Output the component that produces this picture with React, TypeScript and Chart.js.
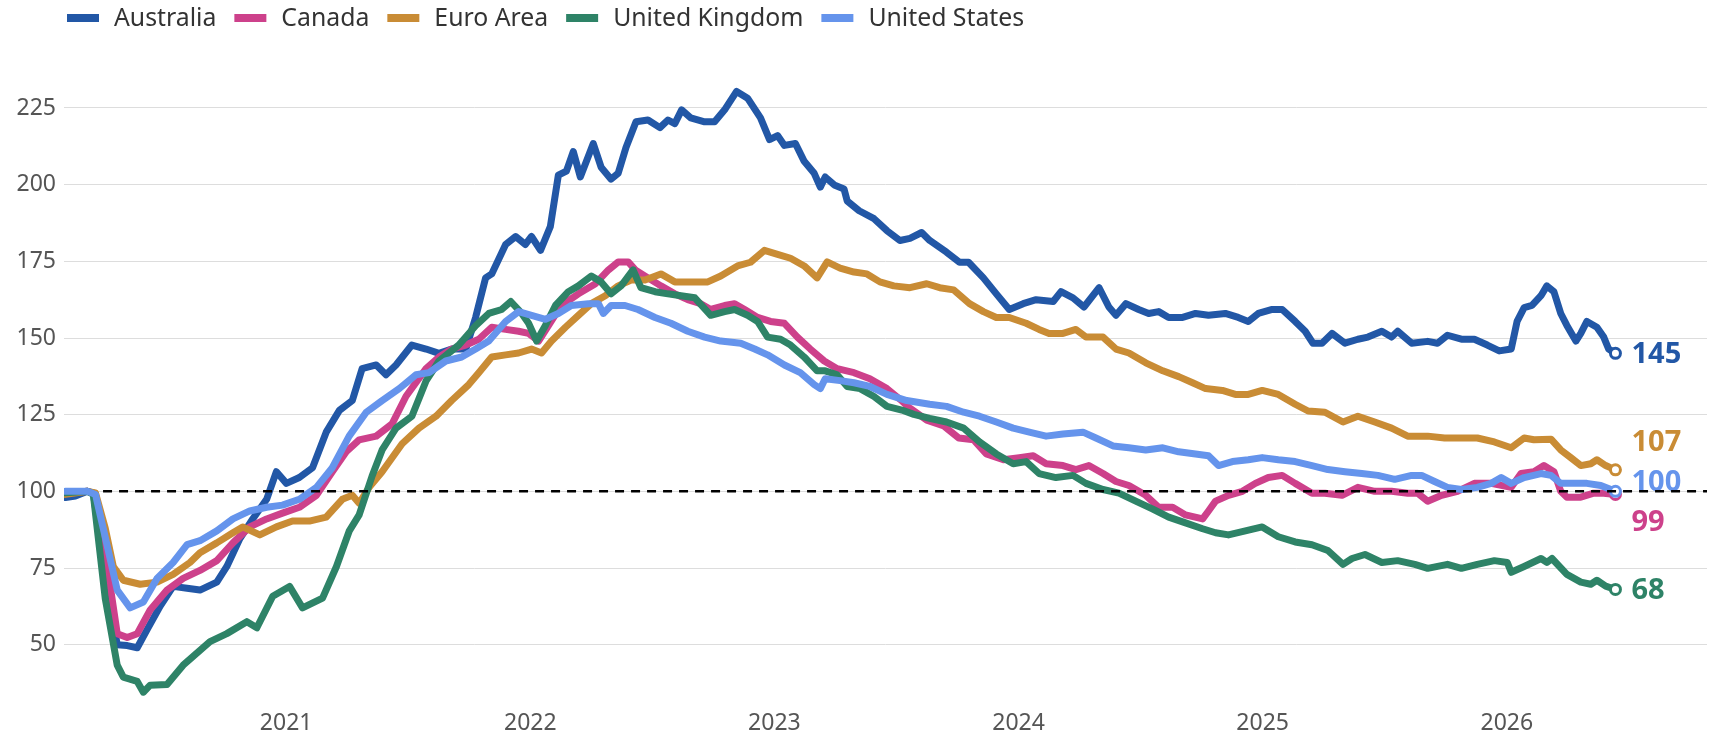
import React, { useEffect, useRef } from "react";
import { Chart, registerables } from "chart.js";

Chart.register(...registerables);

const seriesNames = ["Australia", "Canada", "Euro Area", "United Kingdom", "United States"];
const seriesColors = ["#2257a6", "#cd418b", "#c98c35", "#2e8367", "#6594ec"];

// [decimal year, index value]
const australiaData: number[][] = [
  [2020.096, 98], [2020.137, 98.5], [2020.186, 100], [2020.21, 99.5], [2020.259, 72], [2020.308, 50],
  [2020.349, 49.7], [2020.39, 49], [2020.431, 55], [2020.484, 62.6], [2020.537, 69], [2020.594, 68.4],
  [2020.647, 67.8], [2020.716, 70.4], [2020.757, 75.5], [2020.81, 84.5], [2020.863, 91], [2020.92, 97.4],
  [2020.96, 106.4], [2021.001, 102.6], [2021.054, 104.5], [2021.108, 107.7], [2021.164, 119.3], [2021.218, 126.4],
  [2021.271, 129.6], [2021.311, 140], [2021.369, 141.2], [2021.409, 138], [2021.45, 141.2], [2021.515, 147.7],
  [2021.573, 146.4], [2021.626, 145], [2021.678, 146.4], [2021.736, 146.4], [2021.776, 156.7], [2021.817, 169.6],
  [2021.842, 170.9], [2021.899, 180.5], [2021.94, 183.1], [2021.98, 180.5], [2022.005, 183.1], [2022.042, 178.6],
  [2022.082, 186.3], [2022.115, 203.1], [2022.148, 204.4], [2022.176, 210.8], [2022.205, 202.5], [2022.258, 213.4],
  [2022.29, 205.7], [2022.331, 201.8], [2022.36, 203.7], [2022.392, 212.1], [2022.433, 220.5], [2022.482, 221.1],
  [2022.531, 218.6], [2022.564, 221.1], [2022.592, 219.9], [2022.62, 224.4], [2022.657, 221.8], [2022.714, 220.5],
  [2022.755, 220.5], [2022.796, 224.4], [2022.845, 230.4], [2022.89, 228.2], [2022.943, 221.8], [2022.98, 214.7],
  [2023.013, 216], [2023.041, 212.8], [2023.086, 213.4], [2023.122, 207.6], [2023.163, 203.7], [2023.188, 199.2],
  [2023.208, 202.5], [2023.245, 199.9], [2023.285, 198.6], [2023.298, 194.7], [2023.347, 191.5], [2023.408, 188.9],
  [2023.461, 185], [2023.514, 181.8], [2023.555, 182.5], [2023.603, 184.4], [2023.636, 181.8], [2023.705, 178],
  [2023.758, 174.7], [2023.795, 174.7], [2023.856, 169.6], [2023.909, 164.4], [2023.962, 159.3], [2024.019, 161.2],
  [2024.072, 162.5], [2024.142, 161.9], [2024.174, 165.1], [2024.223, 163.1], [2024.268, 160.1], [2024.33, 166.4],
  [2024.37, 160.1], [2024.399, 157.4], [2024.44, 161.2], [2024.492, 159.3], [2024.533, 158], [2024.574, 158.6],
  [2024.615, 156.7], [2024.672, 156.7], [2024.725, 158], [2024.778, 157.4], [2024.847, 158], [2024.9, 156.7],
  [2024.941, 155.4], [2024.982, 158], [2025.039, 159.3], [2025.08, 159.3], [2025.133, 155.4], [2025.174, 152.2],
  [2025.206, 148.3], [2025.243, 148.3], [2025.284, 151.5], [2025.337, 148.3], [2025.39, 149.6], [2025.431, 150.3],
  [2025.488, 152.2], [2025.528, 150.3], [2025.553, 152.2], [2025.61, 148.3], [2025.676, 148.9], [2025.716, 148.3],
  [2025.757, 150.9], [2025.814, 149.6], [2025.867, 149.6], [2025.92, 147.7], [2025.969, 145.8], [2026.018, 146.4],
  [2026.042, 155.4], [2026.071, 159.9], [2026.103, 160.6], [2026.14, 163.8], [2026.164, 167], [2026.193, 165.1],
  [2026.221, 158], [2026.246, 154.1], [2026.283, 149], [2026.303, 151.5], [2026.328, 155.4], [2026.369, 153.5],
  [2026.397, 150.3], [2026.417, 146.4], [2026.445, 145],
];

const canadaData: number[][] = [
  [2020.096, 99.5], [2020.186, 100], [2020.219, 99], [2020.259, 80], [2020.308, 53.6], [2020.349, 52.3],
  [2020.39, 53.6], [2020.443, 61.3], [2020.512, 67.8], [2020.578, 71.6], [2020.647, 74.2], [2020.716, 77.4],
  [2020.782, 83.2], [2020.851, 88.4], [2020.92, 91], [2020.985, 92.9], [2021.054, 94.8], [2021.124, 98.7],
  [2021.189, 106.4], [2021.246, 112.9], [2021.299, 116.8], [2021.369, 118], [2021.434, 122], [2021.491, 131],
  [2021.573, 140], [2021.626, 143.8], [2021.678, 146.4], [2021.736, 147.7], [2021.789, 149.6], [2021.842, 153.5],
  [2021.899, 152.8], [2021.952, 152.2], [2021.993, 151.5], [2022.034, 149], [2022.075, 154.1], [2022.127, 160.6],
  [2022.197, 164.4], [2022.267, 167.7], [2022.32, 172.2], [2022.36, 174.8], [2022.401, 174.8], [2022.43, 172.2],
  [2022.482, 169.6], [2022.535, 167], [2022.592, 164.4], [2022.645, 162.5], [2022.698, 161.2], [2022.739, 159.3],
  [2022.796, 160.6], [2022.837, 161.2], [2022.878, 159.3], [2022.931, 156.7], [2022.984, 155.4], [2023.041, 154.8],
  [2023.094, 150.3], [2023.147, 146.4], [2023.204, 142.5], [2023.257, 140], [2023.326, 138.7], [2023.391, 136.7],
  [2023.461, 133.5], [2023.522, 129.5], [2023.555, 127.1], [2023.624, 123.2], [2023.694, 121.3], [2023.755, 117.4],
  [2023.816, 116.8], [2023.868, 112.2], [2023.938, 110.3], [2024.003, 111], [2024.06, 111.6], [2024.113, 109],
  [2024.182, 108.4], [2024.235, 107.1], [2024.288, 108.4], [2024.346, 105.8], [2024.399, 103.2], [2024.452, 101.9],
  [2024.521, 98.7], [2024.574, 94.8], [2024.631, 94.8], [2024.684, 92.3], [2024.754, 91], [2024.778, 93.6],
  [2024.807, 96.8], [2024.86, 98.7], [2024.917, 100], [2024.97, 102.6], [2025.023, 104.5], [2025.08, 105.2],
  [2025.133, 102.6], [2025.202, 99.4], [2025.255, 99.4], [2025.325, 98.7], [2025.39, 101.3], [2025.459, 100],
  [2025.528, 100], [2025.594, 99.4], [2025.635, 99.4], [2025.676, 96.8], [2025.733, 98.7], [2025.798, 100],
  [2025.867, 102.6], [2025.936, 102.6], [2026.018, 101.3], [2026.058, 105.8], [2026.111, 106.4], [2026.152, 108.4],
  [2026.193, 106.4], [2026.221, 100], [2026.246, 98.1], [2026.303, 98.1], [2026.356, 99.4], [2026.397, 99.4],
  [2026.445, 99],
];

const euroAreaData: number[][] = [
  [2020.096, 99], [2020.186, 100], [2020.219, 99.5], [2020.259, 88], [2020.292, 75.5], [2020.333, 71],
  [2020.402, 69.7], [2020.471, 70.4], [2020.537, 72.9], [2020.606, 76.8], [2020.647, 80], [2020.716, 83.2],
  [2020.782, 86.5], [2020.822, 88.4], [2020.892, 85.8], [2020.96, 88.4], [2021.026, 90.3], [2021.095, 90.3],
  [2021.164, 91.6], [2021.23, 97.4], [2021.271, 98.7], [2021.299, 96.1], [2021.34, 101.3], [2021.393, 106.4],
  [2021.475, 115.5], [2021.544, 120.6], [2021.614, 124.5], [2021.678, 129.6], [2021.748, 134.8], [2021.789, 138.7],
  [2021.842, 143.8], [2021.899, 144.5], [2021.952, 145.1], [2022.005, 146.4], [2022.046, 145.1], [2022.087, 149],
  [2022.144, 153.5], [2022.197, 157.4], [2022.25, 161.2], [2022.307, 163.8], [2022.36, 167], [2022.413, 168.9],
  [2022.47, 168.9], [2022.535, 170.9], [2022.592, 168.3], [2022.657, 168.3], [2022.727, 168.3], [2022.78, 170.2],
  [2022.849, 173.5], [2022.902, 174.7], [2022.959, 178.6], [2023.013, 177.3], [2023.066, 176], [2023.122, 173.5],
  [2023.175, 169.6], [2023.216, 174.8], [2023.269, 172.8], [2023.326, 171.5], [2023.379, 170.9], [2023.432, 168.3],
  [2023.489, 167], [2023.555, 166.4], [2023.624, 167.7], [2023.677, 166.4], [2023.734, 165.7], [2023.799, 161.2],
  [2023.856, 158.6], [2023.909, 156.7], [2023.962, 156.7], [2024.031, 154.8], [2024.084, 152.8], [2024.125, 151.5],
  [2024.182, 151.5], [2024.235, 152.8], [2024.276, 150.3], [2024.346, 150.3], [2024.399, 146.4], [2024.452, 145.1],
  [2024.521, 141.9], [2024.591, 139.3], [2024.656, 137.4], [2024.713, 135.4], [2024.766, 133.5], [2024.835, 132.9],
  [2024.888, 131.6], [2024.941, 131.6], [2024.998, 132.9], [2025.064, 131.6], [2025.133, 128.4], [2025.186, 126.2],
  [2025.255, 125.8], [2025.329, 122.6], [2025.39, 124.5], [2025.459, 122.6], [2025.528, 120.6], [2025.594, 118],
  [2025.676, 118], [2025.745, 117.4], [2025.814, 117.4], [2025.879, 117.4], [2025.949, 116.1], [2026.018, 114.2],
  [2026.071, 117.4], [2026.111, 116.8], [2026.181, 117], [2026.221, 113.5], [2026.262, 111], [2026.303, 108.4],
  [2026.344, 109], [2026.369, 110.3], [2026.405, 108.4], [2026.445, 107],
];

const unitedKingdomData: number[][] = [
  [2020.096, 99.5], [2020.186, 100], [2020.21, 99], [2020.259, 65], [2020.308, 43.3], [2020.333, 39.4],
  [2020.39, 38], [2020.415, 34.5], [2020.443, 36.8], [2020.512, 37], [2020.578, 43.3], [2020.688, 51],
  [2020.757, 53.6], [2020.839, 57.5], [2020.88, 55.5], [2020.945, 65.8], [2021.014, 69], [2021.067, 62],
  [2021.149, 65.2], [2021.206, 75.5], [2021.258, 87], [2021.299, 92.3], [2021.352, 105], [2021.393, 113.5],
  [2021.45, 120.6], [2021.515, 124.5], [2021.573, 136], [2021.626, 142.5], [2021.707, 147.7], [2021.776, 154],
  [2021.83, 158], [2021.883, 159.3], [2021.92, 161.9], [2021.965, 158], [2021.993, 154.8], [2022.026, 149],
  [2022.062, 154.1], [2022.103, 160.6], [2022.156, 165.1], [2022.197, 167], [2022.25, 170.2], [2022.29, 168.3],
  [2022.331, 164.4], [2022.372, 167], [2022.421, 172.2], [2022.453, 166.4], [2022.511, 165.1], [2022.564, 164.4],
  [2022.617, 163.8], [2022.674, 163.1], [2022.739, 157.4], [2022.796, 158.6], [2022.837, 159.3], [2022.89, 157.4],
  [2022.931, 155.4], [2022.972, 150.3], [2023.025, 149.6], [2023.066, 147.7], [2023.122, 143.8], [2023.175, 139.3],
  [2023.208, 139.3], [2023.257, 138], [2023.298, 134.2], [2023.351, 133.5], [2023.408, 130.9], [2023.461, 127.7],
  [2023.522, 126.5], [2023.571, 125.1], [2023.636, 123.8], [2023.705, 122.6], [2023.775, 120.6], [2023.84, 116.1],
  [2023.909, 112.2], [2023.978, 109], [2024.031, 109.7], [2024.084, 105.8], [2024.153, 104.5], [2024.223, 105.2],
  [2024.276, 102.6], [2024.346, 100.6], [2024.411, 99.4], [2024.48, 96.8], [2024.55, 94.2], [2024.615, 91.6],
  [2024.684, 89.7], [2024.754, 87.8], [2024.807, 86.5], [2024.86, 85.8], [2024.929, 87.1], [2024.998, 88.4],
  [2025.064, 85.2], [2025.133, 83.5], [2025.202, 82.6], [2025.267, 80.7], [2025.329, 76.2], [2025.366, 78.1],
  [2025.419, 79.4], [2025.488, 76.8], [2025.553, 77.4], [2025.623, 76.2], [2025.676, 74.9], [2025.757, 76.2],
  [2025.814, 74.9], [2025.879, 76.2], [2025.949, 77.4], [2026.002, 76.8], [2026.018, 73.6], [2026.071, 75.5],
  [2026.14, 78.1], [2026.164, 76.8], [2026.185, 78.1], [2026.246, 72.9], [2026.303, 70.4], [2026.344, 69.7],
  [2026.369, 71], [2026.405, 69.1], [2026.445, 68],
];

const unitedStatesData: number[][] = [
  [2020.096, 100], [2020.186, 100], [2020.219, 99], [2020.259, 85], [2020.308, 67.8], [2020.361, 62],
  [2020.415, 63.9], [2020.471, 71.6], [2020.537, 76.8], [2020.594, 82.6], [2020.647, 83.9], [2020.716, 87.1],
  [2020.782, 91], [2020.851, 93.6], [2020.92, 94.8], [2020.985, 95.5], [2021.054, 97.4], [2021.124, 101.3],
  [2021.189, 107.7], [2021.258, 118], [2021.328, 125.8], [2021.393, 129.6], [2021.463, 133.5], [2021.532, 138],
  [2021.585, 138.7], [2021.654, 142.5], [2021.719, 143.8], [2021.776, 146.4], [2021.83, 149], [2021.899, 155.4],
  [2021.952, 158.6], [2022.005, 157.4], [2022.062, 156.1], [2022.115, 158], [2022.168, 160.6], [2022.238, 161.2],
  [2022.279, 161.2], [2022.299, 158], [2022.331, 160.6], [2022.388, 160.6], [2022.441, 159.3], [2022.511, 156.7],
  [2022.576, 154.8], [2022.645, 152.2], [2022.714, 150.3], [2022.78, 149], [2022.862, 148.3], [2022.919, 146.4],
  [2022.972, 144.5], [2023.041, 141.2], [2023.106, 138.7], [2023.163, 134.8], [2023.188, 133.5], [2023.208, 136.7],
  [2023.269, 136.1], [2023.326, 135.4], [2023.391, 134.2], [2023.461, 131.6], [2023.542, 129.6], [2023.636, 128.4],
  [2023.705, 127.7], [2023.775, 125.8], [2023.84, 124.5], [2023.909, 122.6], [2023.978, 120.6], [2024.044, 119.3],
  [2024.113, 118], [2024.182, 118.7], [2024.264, 119.3], [2024.317, 117.4], [2024.387, 114.8], [2024.452, 114.2],
  [2024.521, 113.5], [2024.591, 114.2], [2024.656, 112.9], [2024.725, 112.2], [2024.778, 111.6], [2024.819, 108.4],
  [2024.876, 109.7], [2024.941, 110.3], [2024.998, 111], [2025.064, 110.3], [2025.133, 109.7], [2025.202, 108.4],
  [2025.267, 107.1], [2025.337, 106.4], [2025.406, 105.8], [2025.472, 105.2], [2025.541, 103.9], [2025.61, 105.2],
  [2025.651, 105.2], [2025.704, 103.2], [2025.757, 101.3], [2025.814, 100.6], [2025.879, 101.3], [2025.936, 102.6],
  [2025.977, 104.5], [2026.018, 102.6], [2026.071, 104.5], [2026.14, 105.8], [2026.181, 105.2], [2026.221, 102.6],
  [2026.274, 102.6], [2026.328, 102.6], [2026.385, 101.9], [2026.445, 100],
];

const seriesData = [australiaData, canadaData, euroAreaData, unitedKingdomData, unitedStatesData];

const referenceDates = [2020.25, 2026.82];
const referenceValues = [100, 100];

const xRange = [2020.09, 2026.82];
const yRange = [30, 240];
const xTickYears = [2021, 2022, 2023, 2024, 2025, 2026];
const yTickValues = [50, 75, 100, 125, 150, 175, 200, 225];

const FONT = '"Noto Sans", "Open Sans", sans-serif';

const legendPlugin = {
  id: "customLegend",
  afterDraw(chart: any) {
    const ctx = chart.ctx;
    ctx.save();
    ctx.font = `24.8px ${FONT}`;
    ctx.textBaseline = "middle";
    ctx.textAlign = "left";
    let x = 67;
    const cy = 18;
    seriesNames.forEach((name, i) => {
      ctx.fillStyle = seriesColors[i];
      ctx.fillRect(x, cy - 4, 32, 8);
      x += 32 + 15;
      ctx.fillStyle = "#333333";
      ctx.fillText(name, x, cy + 1);
      x += ctx.measureText(name).width + 18;
    });
    ctx.restore();
  },
};

const endLabelPlugin = {
  id: "endLabels",
  beforeDatasetsDraw(chart: any) {
    const ctx = chart.ctx;
    const items: any[] = [];
    chart.data.datasets.forEach((ds: any, i: number) => {
      if (ds.isReference) return;
      const meta = chart.getDatasetMeta(i);
      const pt = meta.data[meta.data.length - 1];
      const last = ds.data[ds.data.length - 1];
      items.push({ x: pt.x, y: pt.y, ly: pt.y, text: String(Math.round(last.y)), color: ds.borderColor });
    });
    items.sort((a, b) => a.y - b.y);
    const gap = 40;
    for (let iter = 0; iter < 200; iter++) {
      for (let i = 1; i < items.length; i++) {
        const d = items[i].ly - items[i - 1].ly;
        if (d < gap) {
          const s = (gap - d) / 2;
          items[i].ly += s;
          items[i - 1].ly -= s;
        }
      }
    }
    ctx.save();
    ctx.font = `bold 29px ${FONT}`;
    ctx.textBaseline = "middle";
    ctx.textAlign = "left";
    items.forEach((it) => {
      const moved = Math.abs(it.ly - it.y) > 0.5;
      ctx.fillStyle = it.color;
      ctx.fillText(it.text, it.x + 16, it.ly + (moved ? -2 : 1));
    });
    ctx.restore();
  },
};

export default function App() {
  const canvasRef = useRef<HTMLCanvasElement | null>(null);

  useEffect(() => {
    document.body.style.margin = "0";
    const canvas = canvasRef.current;
    if (!canvas) return;

    const datasets: any[] = seriesNames.map((name, i) => {
      const data = seriesData[i].map((p) => ({ x: p[0], y: p[1] }));
      return {
        label: name,
        data,
        borderColor: seriesColors[i],
        backgroundColor: seriesColors[i],
        borderWidth: 7,
        borderJoinStyle: "round",
        borderCapStyle: "round",
        tension: 0,
        fill: false,
        order: seriesNames.length - i,
        pointRadius: (c: any) => (c.dataIndex === data.length - 1 ? 5 : 0),
        pointBorderWidth: 3,
        pointBackgroundColor: "#ffffff",
        pointBorderColor: seriesColors[i],
      };
    });

    datasets.push({
      label: "reference",
      isReference: true,
      data: referenceDates.map((d, i) => ({ x: d, y: referenceValues[i] })),
      borderColor: "#000000",
      borderWidth: 2.5,
      borderDash: [9, 7],
      pointRadius: 0,
      fill: false,
      order: 0,
    });

    const chart = new Chart(canvas, {
      type: "line",
      data: { datasets },
      options: {
        animation: false,
        responsive: false,
        devicePixelRatio: 1,
        events: [],
        layout: { padding: { top: 62, right: 2, left: 0, bottom: 0 } },
        plugins: {
          legend: { display: false },
          tooltip: { enabled: false },
          title: { display: false },
        },
        scales: {
          x: {
            type: "linear",
            min: xRange[0],
            max: xRange[1],
            afterBuildTicks: (axis: any) => {
              axis.ticks = xTickYears.map((v) => ({ value: v }));
            },
            afterFit: (s: any) => {
              s.height = 28;
            },
            grid: { display: false, drawTicks: false },
            border: { display: false },
            ticks: {
              autoSkip: false,
              maxRotation: 0,
              padding: 4,
              color: "#555555",
              font: { family: FONT, size: 23 },
              callback: (v: any) => String(v),
            },
          },
          y: {
            type: "linear",
            min: yRange[0],
            max: yRange[1],
            afterBuildTicks: (axis: any) => {
              axis.ticks = yTickValues.map((v) => ({ value: v }));
            },
            afterFit: (s: any) => {
              s.width = 64;
            },
            grid: { color: "#dddddd", lineWidth: 1, drawTicks: false },
            border: { display: false },
            ticks: {
              padding: 8,
              color: "#555555",
              font: { family: FONT, size: 23 },
              callback: (v: any) => String(v),
            },
          },
        },
      },
      plugins: [legendPlugin, endLabelPlugin],
    } as any);

    return () => chart.destroy();
  }, []);

  return (
    <div style={{ position: "absolute", left: 0, top: 0, width: 1715, height: 734, background: "#ffffff" }}>
      <canvas ref={canvasRef} width={1715} height={734} style={{ display: "block" }} />
    </div>
  );
}
